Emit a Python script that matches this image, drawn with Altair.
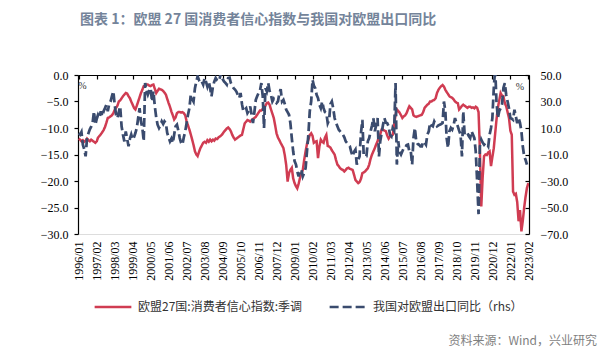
import altair as alt
import pandas as pd

TITLE = "图表 1：欧盟 27 国消费者信心指数与我国对欧盟出口同比"
RED_NAME = "欧盟27国:消费者信心指数:季调"
BLUE_NAME = "我国对欧盟出口同比（rhs）"
SOURCE = "资料来源：Wind，兴业研究"

# monthly, 1996/01 .. 2023/02 (left axis)
red = [
    -12.0, -12.2, -12.5, -12.3, -12.6, -12.4, -12.0, -12.3, -12.5, -12.2, -12.4, -12.6,
    -12.8, -12.5, -11.8, -11.5, -11.2, -10.8, -10.4, -9.8, -9.0, -8.1, -8.0, -7.8,
    -7.6, -7.2, -6.6, -6.2, -5.8, -5.0, -4.8, -4.4, -4.0, -3.7, -3.4, -3.5,
    -4.0, -4.4, -5.0, -5.6, -6.2, -6.5, -5.8, -5.0, -4.2, -3.4, -2.8, -2.1,
    -2.0, -1.8, -1.8, -2.0, -2.1, -1.9, -1.8, -2.6, -3.4, -3.0, -2.6, -2.7,
    -2.8, -3.0, -3.3, -3.7, -4.5, -5.3, -6.0, -6.9, -7.6, -8.4, -8.0, -7.2,
    -7.0, -7.0, -7.1, -7.0, -7.2, -7.6, -8.7, -9.5, -10.3, -11.2, -12.2, -13.2,
    -14.4, -15.0, -15.3, -14.5, -13.8, -13.3, -12.8, -12.6, -12.8, -12.3, -12.6, -12.2,
    -12.5, -12.2, -12.4, -12.0, -12.1, -11.8, -11.6, -11.4, -11.1, -10.7, -10.4, -10.1,
    -9.9, -10.2, -10.6, -11.3, -11.8, -12.2, -12.0, -11.8, -11.6, -11.4, -11.3, -10.2,
    -9.1, -8.8, -8.5, -8.6, -8.8, -8.5, -8.3, -8.1, -7.9, -7.5, -7.1, -6.7,
    -6.7, -6.4, -6.2, -5.8, -5.3, -5.2, -5.6, -6.5, -7.3, -8.1, -9.5, -11.0,
    -11.8, -12.3, -12.8, -13.3, -13.8, -15.2, -17.0, -20.1, -18.5, -17.9, -17.5, -19.5,
    -20.4, -21.0, -21.4, -20.5, -19.4, -18.5, -17.9, -16.0, -14.4, -13.0, -12.2, -11.3,
    -11.0, -11.5, -12.8, -12.6, -12.5, -15.7, -13.5, -12.2, -12.6, -12.8, -11.8, -11.3,
    -13.4, -13.5, -13.7, -14.2, -14.6, -15.0, -16.0, -16.9, -17.2, -17.6, -17.8, -17.9,
    -18.2, -17.9, -17.6, -17.5, -17.7, -17.8, -17.9, -18.8, -19.8, -20.1, -20.4, -20.2,
    -19.6, -18.5, -18.4, -18.2, -17.9, -17.6, -16.9, -15.8, -15.0, -14.4, -13.8, -13.1,
    -12.5, -11.6, -11.2, -10.3, -10.3, -10.5, -10.6, -11.4, -12.0, -11.6, -11.5, -11.3,
    -9.4, -7.5, -6.5, -6.8, -7.1, -7.6, -8.1, -7.8, -7.6, -7.2, -6.5, -5.9,
    -6.2, -6.5, -7.6, -7.8, -7.9, -7.8, -7.7, -7.6, -7.5, -7.0, -6.2, -5.9,
    -5.6, -5.4, -5.0, -5.0, -4.8, -4.7, -4.4, -3.4, -2.8, -2.4, -2.1, -1.9,
    -2.2, -2.8, -3.2, -3.6, -4.0, -4.2, -4.3, -4.6, -5.0, -5.2, -5.3, -6.5,
    -6.2, -5.8, -5.6, -5.8, -6.0, -6.2, -6.0, -6.0, -6.2, -6.1, -6.3, -6.0,
    -6.2, -7.0, -14.0, -24.8, -19.4, -15.3, -15.0, -15.1, -14.6, -14.4, -17.2, -15.5,
    -13.8, -11.0, -8.5, -6.2, -4.8, -3.4, -3.9, -4.0, -5.3, -5.9, -7.0, -8.1,
    -10.5, -11.3, -22.0, -22.6, -22.4, -24.0, -27.6, -25.5, -29.5, -27.5, -25.0, -23.0,
    -21.3, -20.4,
]

# monthly, 1996/01 .. 2023/01 (right axis)
blue = [
    6, 5, 7, -2.6, -6, -11.4, 2.4, 6, 9, 11, 13.7, 22.5,
    12.5, 17, 20, 18, 22.6, 18.8, 22.6, 25, 27.6, 22.6, 28, 30,
    34, 37.7, 28, 20, 17.5, 22, 26.3, 11.3, 5, -0.1, 7.4, 2,
    -3.8, 2, 5, 1.2, 3, 6.2, 10, 17.5, 25, 15, 10, 0,
    44, 38, 35.1, 38, 40.1, 30, 37.7, 26.3, 18, 12.5, 10, 12,
    15, 13, 15, 13.7, 6.2, 3, -0.1, 2, -1.3, 5, 11.3, 12.5,
    8, 2.4, -1, -2.6, 3, 7.4, 13.7, 20, 25, 35.1, 32, 30,
    40.1, 45, 49, 46, 44, 45, 42.7, 47.7, 45, 41.4, 45.2, 40,
    34, 41.4, 45, 47.7, 46, 45.2, 48, 52, 47, 45.2, 44, 42.7,
    47.7, 48, 44, 42, 40, 39, 37.5, 35, 32.6, 36.4, 28, 22.6,
    24, 25, 21.3, 23, 26.3, 20, 13.7, 22, 31.3, 34, 36.4, 38,
    43.9, 33.8, 10, 40, 37.7, 44, 38, 35, 30, 32, 30, 28.8,
    30, 36, 39.3, 30, 31.3, 28, 23.8, 22, 20, 13.7, 2.4, -7.6,
    -15, -17.6, -22.7, -26.5, -22, -21.5, -26.5, -24, -20.2, -7.6, 5, 22.6,
    30, 46.4, 42, 40, 35.1, 32.6, 27.6, 25, 30, 25, 22, 21.3,
    13.7, 16.2, 28, 30, 25, 17.5, 14, 11.3, 8.7, 7.5, 6.2, 5,
    3, -0.1, -1.3, -3, -3.8, -8, -11.4, -8, -6.3, -17.6, -14, -11.4,
    6.2, 16.2, -10, -11.3, -11.3, 0, 2.4, 7.5, 12, 17.5, 7.5, 12,
    17.5, -11.4, 0, 6.2, 12.5, 17.5, 14, 13.7, 11.3, 5, 3.7, 10,
    8, 44, -17.6, 0, -8, -10, -7.6, -5, -5, -3, -2.6, -7.6,
    -7, -17.6, 2.4, 10, -0.1, -2, -2.6, -3.8, -3.8, -0.1, -1, -2.6,
    5, 7.5, 13.7, 12, 11.3, 15, 13, 11.3, 12, 12.5, 13, 13.7,
    30, 22.6, 2.4, -5, 7.5, 10, 8.7, 12, 17.5, 14, 11.3, 8,
    5, -11.4, 22.6, 5, 6, 6.2, 4, 2.4, 7.5, 5, 2.4, -7.6,
    -30, -55, -4, 1.2, -1, -2.6, -1.3, -2, -3.8, 5, 10, 17.5,
    40, 55, 30, 17.5, 22.6, 25, 27.6, 40.1, 43.9, 35.1, 30, 25,
    17.5, 17, 16.2, 23.8, 18.8, 13.7, 17.5, 14, 7.5, -3.8, -11.4, -14,
    -17.6,
]

left_ticks = [0, -5, -10, -15, -20, -25, -30]
right_ticks = [50, 30, 10, -10, -30, -50, -70]

months = [f"{1996 + i // 12}-{i % 12 + 1:02d}-01" for i in range(len(red))]
label_months = [(1996 + (13 * k) // 12, (13 * k) % 12 + 1) for k in range(26)]

df_red = pd.DataFrame({"date": months, "value": red, "series": RED_NAME})
df_blue = pd.DataFrame({"date": months[: len(blue)], "value": blue, "series": BLUE_NAME})

SERIF = "Liberation Serif"
CJK = "Noto Sans CJK SC"
W, H = 451, 159

tick_dates = [alt.DateTime(year=y, month=m, date=1) for y, m in label_months]
xscale = alt.Scale(domain=[alt.DateTime(year=1995, month=12, date=16),
                           alt.DateTime(year=2023, month=2, date=15)])
yl_scale = alt.Scale(domain=[-30, 0], nice=False, zero=False)
yr_scale = alt.Scale(domain=[-70, 50], nice=False, zero=False)

color_scale = alt.Scale(domain=[RED_NAME, BLUE_NAME], range=["#d03c52", "#3a4b6e"])
dash_scale = alt.Scale(domain=[RED_NAME, BLUE_NAME], range=[[1, 0], [9, 4]])

legend = alt.Legend(
    orient="none", legendX=15, legendY=212, direction="horizontal", title=None,
    symbolType="stroke", symbolSize=1350, symbolStrokeWidth=2.5,
    labelFont=CJK, labelFontSize=12, labelColor="#333333",
    columnPadding=22, labelOffset=5, padding=0, labelLimit=0,
)

bottom_axis = alt.Axis(
    orient="bottom", values=tick_dates, format="%Y/%m", labelAngle=270,
    labelFont=SERIF, labelFontSize=12, labelColor="#000000",
    domain=False, ticks=False, tickSize=0, labelPadding=7, grid=False, title=None,
    labelOverlap=False, labelFlush=False,
)
top_axis = alt.Axis(
    orient="bottom", offset=-H, values=tick_dates, labels=False,
    domain=True, domainColor="#000000", domainWidth=1.2,
    ticks=True, tickSize=4, tickColor="#000000", tickWidth=1.2,
    grid=False, title=None,
)
left_axis = alt.Axis(
    orient="left", values=left_ticks, format=".1f",
    labelFont=SERIF, labelFontSize=12, labelColor="#000000",
    domain=True, domainColor="#000000", domainWidth=1.2,
    ticks=True, tickSize=4, tickColor="#000000", tickWidth=1.2,
    labelPadding=6, grid=False, title=None,
)
right_label_axis = alt.Axis(
    orient="right", values=right_ticks, format=".1f",
    labelFont=SERIF, labelFontSize=12, labelColor="#000000",
    domain=False, ticks=False, tickSize=0, labelPadding=11, grid=False, title=None,
)
right_frame_axis = alt.Axis(
    orient="left", offset=-W, values=right_ticks, labels=False,
    domain=True, domainColor="#000000", domainWidth=1.2,
    ticks=True, tickSize=4, tickColor="#000000", tickWidth=1.2,
    grid=False, title=None,
)

red_line = alt.Chart(df_red).mark_line(strokeWidth=2.5, clip=True).encode(
    x=alt.X("date:T", scale=xscale, axis=bottom_axis),
    y=alt.Y("value:Q", scale=yl_scale, axis=left_axis),
    color=alt.Color("series:N", scale=color_scale, legend=legend),
    strokeDash=alt.StrokeDash("series:N", scale=dash_scale, legend=legend),
)

blue_line = alt.Chart(df_blue).mark_line(strokeWidth=2.75, clip=True).encode(
    x=alt.X("date:T", scale=xscale, axis=top_axis),
    y=alt.Y("value:Q", scale=yr_scale, axis=right_label_axis),
    color=alt.Color("series:N", scale=color_scale, legend=legend),
    strokeDash=alt.StrokeDash("series:N", scale=dash_scale, legend=legend),
)

frame = alt.Chart(df_blue).mark_line(strokeOpacity=0).encode(
    x=alt.X("date:T", scale=xscale, axis=None),
    y=alt.Y("value:Q", scale=yr_scale, axis=right_frame_axis),
)

pct_left = alt.Chart(pd.DataFrame({"t": ["%"]})).mark_text(
    font=SERIF, fontSize=10, color="#333333", align="center", baseline="middle"
).encode(x=alt.value(4.5), y=alt.value(11), text="t:N")

pct_right = alt.Chart(pd.DataFrame({"t": ["%"]})).mark_text(
    font=SERIF, fontSize=10, color="#333333", align="center", baseline="middle"
).encode(x=alt.value(442), y=alt.value(12), text="t:N")

source = alt.Chart(pd.DataFrame({"t": [SOURCE]})).mark_text(
    font=CJK, fontSize=12, color="#7f7f7f", align="right", baseline="middle"
).encode(x=alt.value(519), y=alt.value(266), text="t:N")

chart = (
    alt.layer(red_line, blue_line, frame, pct_left, pct_right, source)
    .resolve_scale(y="independent")
    .resolve_axis(x="independent", y="independent")
    .properties(
        width=W, height=H,
        autosize=alt.AutoSizeParams(type="none"),
        padding={"left": 70, "top": 67, "right": 70, "bottom": 114},
        title=alt.Title(
            TITLE, anchor="start", frame="group", dx=2, offset=41,
            font=CJK, fontSize=14, fontWeight="bold", color="#74849a",
        ),
    )
    .configure_view(stroke=None)
    .configure(background="#ffffff")
)

chart.save("out.html", embed_options={"renderer": "svg", "actions": False})
